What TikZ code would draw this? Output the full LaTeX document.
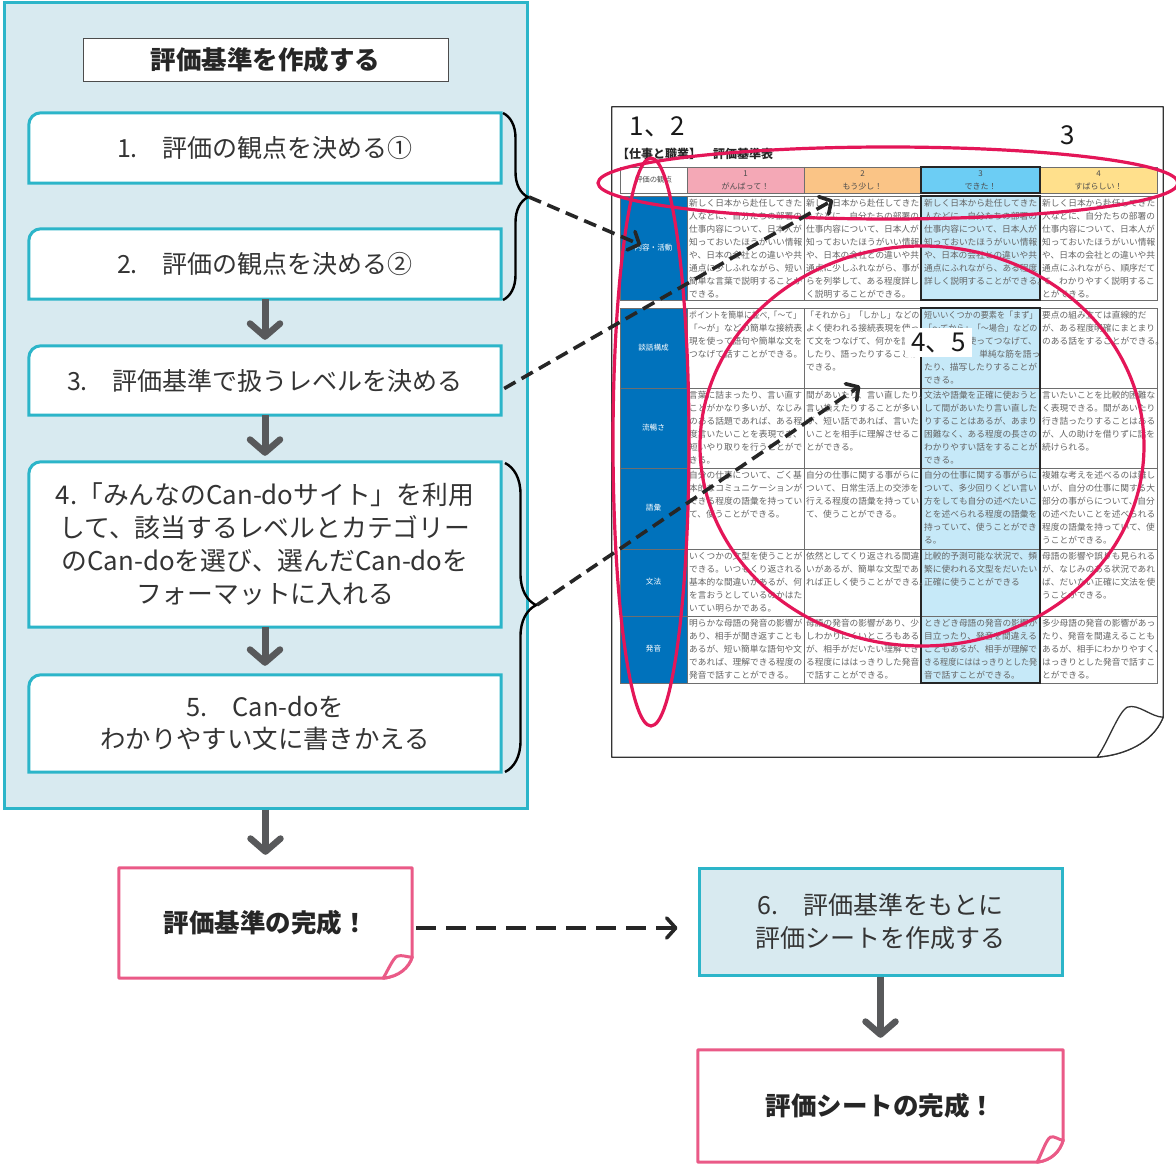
\documentclass[tikz,border=0pt]{standalone}
\usepackage{fontspec}
\usepackage{graphicx}
\setmainfont{Noto Sans CJK JP}
\usetikzlibrary{arrows.meta,decorations.pathreplacing,calc}
\XeTeXlinebreaklocale "ja"
\XeTeXlinebreakskip=0pt plus 1pt
\setlength\parindent{0pt}
\pgfdeclarelayer{back}
\pgfdeclarelayer{mid}
\pgfsetlayers{back,mid,main}
\definecolor{panelbg}{RGB}{216,234,240}
\definecolor{cyanb}{RGB}{44,181,201}
\definecolor{pinkb}{RGB}{234,90,135}
\definecolor{arrowgray}{RGB}{88,89,91}
\definecolor{ringred}{RGB}{228,22,88}
\definecolor{tblue}{RGB}{0,114,188}
\definecolor{hpink}{RGB}{244,168,182}
\definecolor{horange}{RGB}{250,196,134}
\definecolor{hblue}{RGB}{108,205,244}
\definecolor{hyellow}{RGB}{255,224,140}
\definecolor{cblue}{RGB}{198,233,248}
\definecolor{celltext}{RGB}{100,100,100}
\definecolor{textdark}{RGB}{52,52,52}
\definecolor{tline}{RGB}{110,110,110}
\newcommand\stepframe[1]{%
  \draw[stepline] (#1.south west) -- ($(#1.north west)+(0,12)$)
    arc[start angle=180,end angle=270,radius=12] -- (#1.north east)
    -- (#1.south east) -- cycle;}
% #1 node, #2 style, #3 up, #4 left, #5 flap x, #6 flap y
\newcommand\curlframe[6]{%
  \draw[#2] (#1.south west) -- (#1.north west) -- (#1.north east)
    -- ($(#1.south east)+(0,-#3)$)
    .. controls ($(#1.south east)+(-0.12*#4,-0.5*#3)$) and ($(#1.south east)+(-0.45*#4,-0.08*#3)$)
    .. ($(#1.south east)+(-#4,0)$) -- cycle;
  \draw[#2] ($(#1.south east)+(-#4,0)$)
    .. controls ($(#1.south east)+(-0.83*#4,-0.4*#3)$) and ($(#1.south east)+(-#5-0.3*#4+0.3*#5,-0.9*#6)$)
    .. ($(#1.south east)+(-#5,-#6)$)
    .. controls ($(#1.south east)+(-0.7*#5,-1.08*#6)$) and ($(#1.south east)+(-0.33*#5,-#3)$)
    .. ($(#1.south east)+(0,-#3)$)
    .. controls ($(#1.south east)+(-0.12*#4,-0.5*#3)$) and ($(#1.south east)+(-0.45*#4,-0.08*#3)$)
    .. ($(#1.south east)+(-#4,0)$) -- cycle;}
\newcommand\cellnode[4]{\node[cell] (#1) at (#2,#3) {#4};}
\newcommand\sqz[1]{\scalebox{0.93}[1]{#1}}
\newcommand\hg[1]{\rlap{#1}}
\tikzset{
  panelbox/.style={draw=cyanb, fill=panelbg, line width=3pt, minimum width=523pt, minimum height=805pt, inner sep=0pt},
  titlebox/.style={draw=black!70, fill=white, line width=1pt, minimum width=365pt, minimum height=43pt, inner sep=0pt, font=\fontsize{25.5}{28}\selectfont\bfseries, text=black!85},
  stepbox/.style={minimum width=472pt, inner sep=0pt, align=center, font=\fontsize{25}{33}\selectfont, text=textdark},
  stepline/.style={draw=cyanb, line width=3pt, fill=white},
  sheetbox/.style={draw=cyanb, fill=panelbg, line width=3pt, minimum width=363pt, minimum height=107pt, inner sep=0pt, align=center, font=\fontsize{25}{33}\selectfont, text=textdark},
  donebox/.style={minimum height=110pt, inner sep=0pt, font=\fontsize{25.5}{28}\selectfont\bfseries, text=black!85},
  doneline/.style={draw=pinkb, line width=3pt, fill=white, line join=round},
  pageline/.style={draw=black!80, line width=1.3pt, fill=white, line join=round},
  flowarrow/.style={draw=arrowgray, line width=7pt, shorten >=6pt, -{Straight Barb[length=13pt, width=30pt, line width=6.5pt, round]}},
  dasharrow/.style={draw=black!85, line width=3.6pt, dash pattern=on 13pt off 7pt, -{Straight Barb[length=9pt, width=20pt, line width=3.6pt, round]}},
  bracestyle/.style={draw=black, line width=2.4pt, decorate},
  ring/.style={draw=ringred, line width=3.2pt},
  tgrid/.style={draw=tline, line width=0.9pt},
  thickcol/.style={draw=black!85, line width=2.4pt},
  cell/.style={anchor=north west, text width=116pt, inner xsep=1.5pt, inner ysep=2.5pt, font=\fontsize{8.7}{13}\selectfont, text=celltext, align=left},
  hdr/.style={align=center, inner sep=0pt, font=\fontsize{8}{13}\selectfont, text=black!70},
  rowlbl/.style={inner sep=0pt, font=\fontsize{7.6}{9}\selectfont, text=white},
  bignum/.style={inner sep=0pt, font=\fontsize{26}{28}\selectfont, text=black!90}
}
\begin{document}
\begin{tikzpicture}[x=1pt,y=-1pt]
\useasboundingbox (0,0) rectangle (1176,1169);
% ---------- left panel ----------
\begin{pgfonlayer}{back}
\node[panelbox] (panel) at (265.5,405.5) {};
\end{pgfonlayer}
\node[titlebox] (title) at (265.5,60) {評価基準を作成する};
\node[stepbox, minimum height=70pt] (b1) at (265,148) {1.　評価の観点を決める①};
\node[stepbox, minimum height=70pt] (b2) at (265,264) {2.　評価の観点を決める②};
\node[stepbox, minimum height=69pt] (b3) at (265,380.5) {3.　評価基準で扱うレベルを決める};
\node[stepbox, minimum height=165pt, font=\fontsize{25.8}{33}\selectfont] (b4) at (265,544.5) {4.「みんなのCan-doサイト」を利用\\して、該当するレベルとカテゴリー\\のCan-doを選び、選んだCan-doを\\フォーマットに入れる};
\node[stepbox, minimum height=97pt, font=\fontsize{25.4}{32.5}\selectfont] (b5) at (265,723.5) {5.　Can-doを\\わかりやすい文に書きかえる};
\begin{pgfonlayer}{mid}
\stepframe{b1}\stepframe{b2}\stepframe{b3}\stepframe{b4}\stepframe{b5}
\end{pgfonlayer}
\draw[flowarrow] (b2.south) -- (b3.north);
\draw[flowarrow] (b3.south) -- (b4.north);
\draw[flowarrow, shorten >=9pt] (b4.south) -- (b5.north);
% braces
\coordinate (br1) at (529,197);
\coordinate (br2) at (537,605);
\draw[bracestyle, decoration={brace, amplitude=25pt, aspect=0.45}] (503,113) -- (503,300);
\draw[bracestyle, decoration={brace, amplitude=31pt, aspect=0.46}] (505,463) -- (505,772);
% ---------- bottom flow ----------
\node[donebox, minimum width=293pt] (done1) at (265.5,923) {評価基準の完成！};
\node[sheetbox] (sheet) at (880.5,921.5) {6.　評価基準をもとに\\評価シートを作成する};
\node[donebox, minimum width=365pt, minimum height=112pt] (done2) at (880.5,1106) {評価シートの完成！};
\begin{pgfonlayer}{mid}
\curlframe{done1}{doneline}{21}{29}{15}{22}
\curlframe{done2}{doneline}{22}{26}{13}{25}
\end{pgfonlayer}
\draw[flowarrow, shorten >=13pt] (panel.south) -- (done1.north);
\draw[flowarrow, shorten >=12pt] (sheet.south) -- (done2.north);
\draw[dasharrow, line width=4pt, dash pattern=on 20pt off 10pt] ($(done1.east)+(4,5)$) -- ($(sheet.west)+(-20,6.5)$);
% ---------- document page ----------
\node[minimum width=551pt, minimum height=650pt, inner sep=0pt] (page) at (887.5,432) {};
\begin{pgfonlayer}{mid}
\curlframe{page}{pageline}{40}{66}{36}{50}
\end{pgfonlayer}
\node[anchor=west, inner sep=0pt, font=\fontsize{12}{14}\selectfont\bfseries, text=black!85] (ptitle) at (617,154) {【仕事と職業】　評価基準表};
% header
\fill[hpink] (687,167) rectangle (804,193);
\fill[horange] (804,167) rectangle (921,193);
\fill[hblue] (921,167) rectangle (1040,193);
\fill[hyellow] (1040,167) rectangle (1157,193);
\draw[tgrid] (620,167) rectangle (1157,193);
\foreach \x in {687,804,1040} \draw[tgrid] (\x,167) -- (\x,193);
% body
\fill[tblue] (620,196) rectangle (687,300);
\fill[tblue] (620,308) rectangle (687,683);
\fill[cblue] (921,196) rectangle (1040,300);
\fill[cblue] (921,308) rectangle (1040,683);
\draw[tgrid] (620,196) rectangle (1157,300);
\draw[tgrid] (620,308) rectangle (1157,683);
\foreach \x in {687,804,1040} {\draw[tgrid] (\x,196) -- (\x,300); \draw[tgrid] (\x,308) -- (\x,683);}
\foreach \y in {388,468,549,616} \draw[tgrid] (620,\y) -- (1157,\y);
\draw[thickcol] (921,167) rectangle (1040,193);
\draw[thickcol] (921,196) rectangle (1040,300);
\draw[thickcol] (921,308) rectangle (1040,683);
\node[hdr, font=\fontsize{7.4}{9}\selectfont] (h0) at (653.5,180) {評価の観点};
\node[hdr] (h1) at (745.5,180.5) {1\\がんばって！};
\node[hdr] (h2) at (862.5,180.5) {2\\もう少し！};
\node[hdr] (h3) at (980.5,180.5) {3\\できた！};
\node[hdr] (h4) at (1098.5,180.5) {4\\すばらしい！};
\node[rowlbl] (l1) at (653.5,248) {内容・活動};
\node[rowlbl] (l2) at (653.5,348) {談話構成};
\node[rowlbl] (l3) at (653.5,428) {流暢さ};
\node[rowlbl] (l4) at (653.5,508) {語彙};
\node[rowlbl] (l5) at (653.5,582) {文法};
\node[rowlbl] (l6) at (653.5,649) {発音};
% cells
\cellnode{r1c1}{687.5}{196}{新しく日本から赴任してきた\\人などに、自分たちの部署の\\仕事内容について、日本人が\\知っておいたほうがいい情報\\や、日本の会社との違いや共\\通点に少しふれながら、短い\\簡単な言葉で説明することが\\できる。}
\cellnode{r1c2}{804.5}{196}{新しく日本から赴任してきた\\人などに、自分たちの部署の\\仕事内容について、日本人が\\知っておいたほうがいい情報\\や、日本の会社との違いや共\\通点に少しふれながら、事が\\らを列挙して、ある程度詳し\\く説明することができる。}
\cellnode{r1c3}{922.5}{196}{新しく日本から赴任してきた\\人などに、自分たちの部署の\\仕事内容について、日本人が\\知っておいたほうがいい情報\\や、日本の会社との違いや共\\通点にふれながら、ある程度\\詳しく説明することができる\hg{。}}
\cellnode{r1c4}{1040.5}{196}{新しく日本から赴任してきた\\人などに、自分たちの部署の\\仕事内容について、日本人が\\知っておいたほうがいい情報\\や、日本の会社との違いや共\\通点にふれながら、順序だて\\て、わかりやすく説明するこ\\とができる。}
\cellnode{r2c1}{687.5}{308}{\scalebox{0.9}[1]{ポイントを簡単に並べ,「～て」}\\「～が」などの簡単な接続表\\現を使って語句や簡単な文を\\つなげて話すことができる。}
\cellnode{r2c2}{804.5}{308}{\sqz{「それから」「しかし」などの}\\よく使われる接続表現を使っ\\て文をつなげて、何かを説明\\したり、語ったりすることが\\できる。}
\cellnode{r2c3}{922.5}{308}{\sqz{短いいくつかの要素を「まず」}\\\sqz{「～てから」「～場合」などの}\\接続表現を使ってつなげて、\\\hfill 単純な筋を語っ\\たり、描写したりすることが\\できる。}
\cellnode{r2c4}{1040.5}{308}{要点の組み立ては直線的だ\\が、ある程度明確にまとまり\\のある話をすることができる\hg{。}}
\cellnode{r3c1}{687.5}{388}{言葉に詰まったり、言い直す\\ことがかなり多いが、なじみ\\のある話題であれば、ある程\\度言いたいことを表現でき、\\短いやり取りを行うことがで\\きる。}
\cellnode{r3c2}{804.5}{388}{間があいたり、言い直したり\hg{、}\\言い換えたりすることが多い\\が、短い話であれば、言いた\\いことを相手に理解させるこ\\とができる。}
\cellnode{r3c3}{922.5}{388}{文法や語彙を正確に使おうと\\して間があいたり言い直した\\りすることはあるが、あまり\\困難なく、ある程度の長さの\\わかりやすい話をすることが\\できる。}
\cellnode{r3c4}{1040.5}{388}{言いたいことを比較的困難な\\く表現できる。間があいたり\\行き詰ったりすることはある\\が、人の助けを借りずに話を\\続けられる。}
\cellnode{r4c1}{687.5}{468}{自分の仕事について、ごく基\\本的なコミュニケーションが\\できる程度の語彙を持ってい\\て、使うことができる。}
\cellnode{r4c2}{804.5}{468}{自分の仕事に関する事がらに\\ついて、日常生活上の交渉を\\行える程度の語彙を持ってい\\て、使うことができる。}
\cellnode{r4c3}{922.5}{468}{自分の仕事に関する事がらに\\ついて、多少回りくどい言い\\方をしても自分の述べたいこ\\とを述べられる程度の語彙を\\持っていて、使うことができ\\る。}
\cellnode{r4c4}{1040.5}{468}{複雑な考えを述べるのは難し\\いが、自分の仕事に関する大\\部分の事がらについて、自分\\の述べたいことを述べられる\\程度の語彙を持っていて、使\\うことができる。}
\cellnode{r5c1}{687.5}{549}{いくつかの文型を使うことが\\できる。いつもくり返される\\基本的な間違いがあるが、何\\を言おうとしているのかはた\\いてい明らかである。}
\cellnode{r5c2}{804.5}{549}{依然としてくり返される間違\\いがあるが、簡単な文型であ\\れば正しく使うことができる\hg{。}}
\cellnode{r5c3}{922.5}{549}{比較的予測可能な状況で、頻\\繁に使われる文型をだいたい\\正確に使うことができる}
\cellnode{r5c4}{1040.5}{549}{母語の影響や誤りも見られる\\が、なじみのある状況であれ\\ば、だいたい正確に文法を使\\うことができる。}
\cellnode{r6c1}{687.5}{616}{明らかな母語の発音の影響が\\あり、相手が聞き返すことも\\あるが、短い簡単な語句や文\\であれば、理解できる程度の\\発音で話すことができる。}
\cellnode{r6c2}{804.5}{616}{母語の発音の影響があり、少\\しわかりにくいところもある\\が、相手がだいたい理解でき\\る程度にははっきりした発音\\で話すことができる。}
\cellnode{r6c3}{922.5}{616}{ときどき母語の発音の影響が\\目立ったり、発音を間違える\\こともあるが、相手が理解で\\\sqz{きる程度にははっきりとした発}\\音で話すことができる。}
\cellnode{r6c4}{1040.5}{616}{多少母語の発音の影響があっ\\たり、発音を間違えることも\\あるが、相手にわかりやすく\hg{、}\\はっきりとした発音で話すこ\\とができる。}
% numbers
\node[bignum] (n12) at (657,127) {1、2};
\node[bignum] (n3) at (1068,135) {3};
\node[bignum, fill=white, minimum width=67pt, minimum height=29pt] (n45) at (938.5,342.5) {4、5};
% rings
\draw[ring] (888,183) ellipse [x radius=290, y radius=36];
\draw[ring] (651,442) ellipse [x radius=38, y radius=284];
\draw[ring] (922,446) ellipse [x radius=222, y radius=200];
% dashed connectors
\coordinate (tipA) at (641,245);
\coordinate (tipB) at (833,200);
\coordinate (tipC) at (860,386);
\draw[dasharrow] (br1) -- (tipA);
\draw[dasharrow] ($(b3.east)+(3,8)$) -- (tipB);
\draw[dasharrow] (br2) -- (tipC);
\end{tikzpicture}
\end{document}
